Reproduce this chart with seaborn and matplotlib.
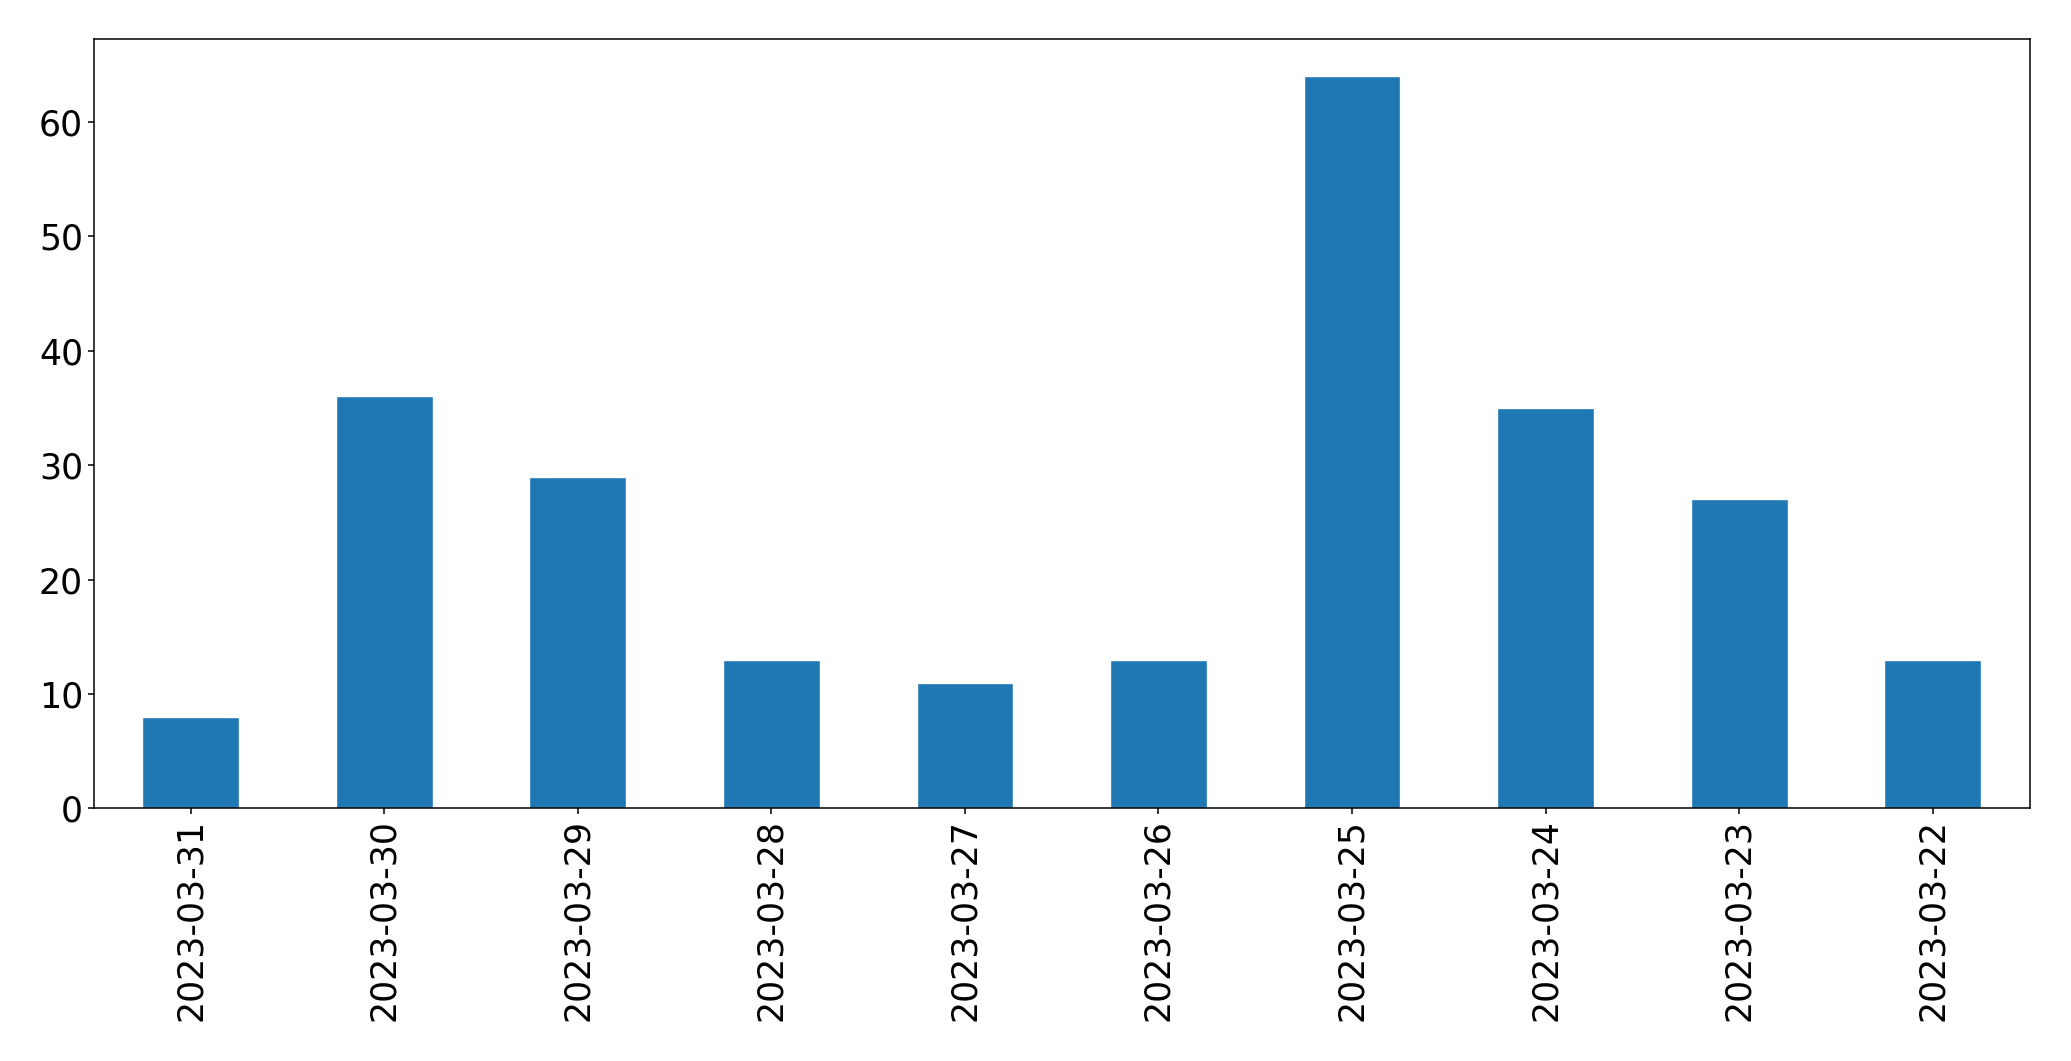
import matplotlib
matplotlib.use("Agg")
import matplotlib.pyplot as plt
import seaborn as sns

dates = ["2023-03-31", "2023-03-30", "2023-03-29", "2023-03-28", "2023-03-27",
         "2023-03-26", "2023-03-25", "2023-03-24", "2023-03-23", "2023-03-22"]
counts = [8, 36, 29, 13, 11, 13, 64, 35, 27, 13]

sns.set_style("white")
plt.rcParams['font.family'] = ['DejaVu Sans']

fig = plt.figure(figsize=(20.71, 10.61), dpi=100)
ax = fig.add_axes([0.0453, 0.238, 0.9347, 0.725])
sns.barplot(x=dates, y=counts, order=dates, color="#1f77b4", saturation=1,
            width=0.5, ax=ax)
ax.set_xlim(-0.5, 9.5)
ax.set_ylim(0, 64 * 1.05)
for s in ax.spines.values():
    s.set_visible(True)
    s.set_color("black")
    s.set_linewidth(1.1)
ax.tick_params(axis="both", which="both", direction="out", length=4.2, width=1.1,
               bottom=True, left=True, labelsize=25, colors="black")
ax.tick_params(axis="x", labelrotation=90)
ax.set_xlabel("")
ax.set_ylabel("")
fig.savefig("out.png", dpi=100)
